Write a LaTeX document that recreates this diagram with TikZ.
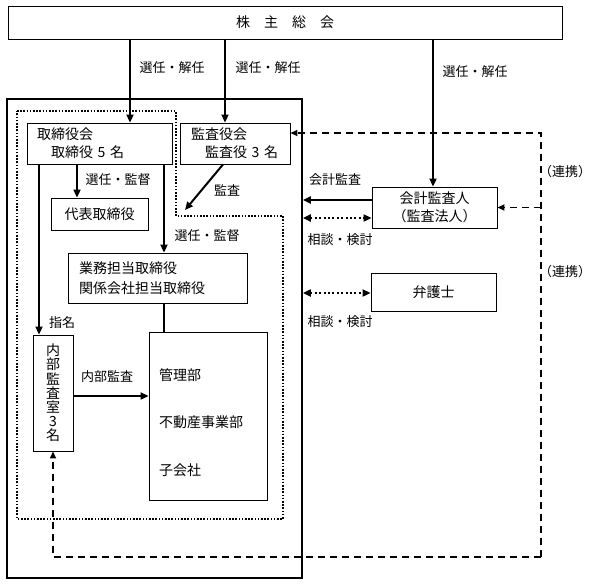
\documentclass[tikz,border=0pt]{standalone}
\usepackage{fontspec}
\setmainfont{Noto Sans CJK JP}
\usetikzlibrary{arrows.meta,calc}
\begin{document}
\begin{tikzpicture}[x=1pt,y=-1pt,
  box/.style={draw, line width=0.9pt, inner sep=0pt, font=\fontsize{14}{18}\selectfont},
  lbl/.style={font=\fontsize{13}{16}\selectfont, inner sep=0pt},
  tip/.tip={Triangle[length=8pt,width=7pt]},
  arr/.style={line width=2pt, -tip},
  plain/.style={line width=2pt},
  dotarr/.style={line width=2pt, dash pattern=on 2pt off 2.4pt, tip-tip},
  dashline/.style={line width=1.8pt, dash pattern=on 7pt off 5pt},
  dotbox/.style={line width=1.6pt, dash pattern=on 1.6pt off 1.6pt},
  outerbox/.style={draw, line width=1.8pt, inner sep=0pt}
]
\useasboundingbox (0,0) rectangle (601,586);

% boxes
\node[box, minimum width=554pt, minimum height=33pt] (soukai) at (285,22.5) {株　主　総　会};
\node[outerbox, minimum width=295pt, minimum height=479pt] (outer) at (154.5,338.5) {};
\draw[dotbox] (17,111) -- (176,111) -- (176,216) -- (283,216) -- (283,519) -- (17,519) -- cycle;

\node[box, minimum height=41pt, text width=125pt, inner xsep=10pt, align=left] (torikai) at (99.5,143.5) {取締役会\\\hspace*{14pt}取締役 5 名};
\node[box, minimum height=41pt, text width=88pt, inner xsep=11pt, align=left] (kansa) at (235,143.5) {監査役会\\\hspace*{14pt}監査役 3 名};
\node[box, minimum width=97pt, minimum height=32pt] (daihyo) at (99.5,214) {代表取締役};
\node[box, minimum height=50pt, text width=157pt, inner xsep=11pt, align=left, font=\fontsize{14}{20}\selectfont] (gyomu) at (157.5,278) {業務担当取締役\\関係会社担当取締役};
\node[box, minimum width=40pt, minimum height=116pt, align=center, font=\fontsize{14}{14.2}\selectfont] (naibu) at (53,393) {内\\部\\監\\査\\室\\3\\名};
\node[box, minimum width=118pt, minimum height=168pt] (dept) at (208,416) {};
\node[lbl, font=\fontsize{14}{18}\selectfont, anchor=west] (d1) at (159,375) {管理部};
\node[lbl, font=\fontsize{14}{18}\selectfont, anchor=west] (d2) at (159,422) {不動産事業部};
\node[lbl, font=\fontsize{14}{18}\selectfont, anchor=west] (d3) at (159,470) {子会社};
\node[box, minimum width=125pt, minimum height=41pt, align=center] (kaikei) at (434.5,207.5) {会計監査人\\（監査法人）};
\node[box, minimum width=125pt, minimum height=38pt] (bengo) at (433.5,292) {弁護士};

% solid arrows
\draw[arr] (soukai.south -| 130,0) -- (torikai.north -| 130,0);
\draw[arr] (soukai.south -| 225,0) -- (kansa.north -| 225,0);
\draw[arr] (soukai.south -| 433,0) -- (kaikei.north -| 433,0);
\draw[arr] (torikai.south -| 77,0) -- (daihyo.north -| 77,0);
\draw[arr] (torikai.south -| 39,0) -- (naibu.north -| 39,0);
\draw[arr] (torikai.south -| 164,0) -- (gyomu.north -| 164,0);
\coordinate (kansaend) at (185,210);
\draw[arr] (kansa.south -| 223,0) -- (kansaend);
\draw[plain] (gyomu.south -| 164,0) -- (dept.north -| 164,0);
\draw[arr] (naibu.east |- 0,396) -- (dept.west |- 0,396);
\draw[arr] (kaikei.west |- 0,200) -- (outer.east |- 0,200);
\draw[dotarr] (outer.east |- 0,218) -- (kaikei.west |- 0,218);
\draw[dotarr] (outer.east |- 0,293) -- (bengo.west |- 0,293);

% dashed connections
\coordinate (c1) at (541,133);
\coordinate (c2) at (541,557);
\draw[dashline, -{Triangle[length=7pt,width=6pt]}] (c2) -- (c1) -- (kansa.east |- c1);
\draw[dashline, -{Triangle[length=7pt,width=6pt]}] (c2) -| (naibu.south);
\draw[dashline, -{Triangle[length=7pt,width=6pt]}] (kaikei.east -| c1) -- (kaikei.east);

% labels
\node[lbl] (l1) at (172,68) {選任・解任};
\node[lbl] (l2) at (268,68) {選任・解任};
\node[lbl] (l3) at (475,72) {選任・解任};
\node[lbl] (l4) at (118,180) {選任・監督};
\node[lbl] (l5) at (207,236) {選任・監督};
\node[lbl] (l6) at (227,190) {監査};
\node[lbl] (l7) at (62,323) {指名};
\node[lbl] (l8) at (107,377) {内部監査};
\node[lbl] (l9) at (335,180) {会計監査};
\node[lbl] (l10) at (340,240) {相談・検討};
\node[lbl] (l11) at (340,322) {相談・検討};
\node[lbl] (l12) at (565,172) {（連携）};
\node[lbl] (l13) at (565,272) {（連携）};
\end{tikzpicture}
\end{document}
